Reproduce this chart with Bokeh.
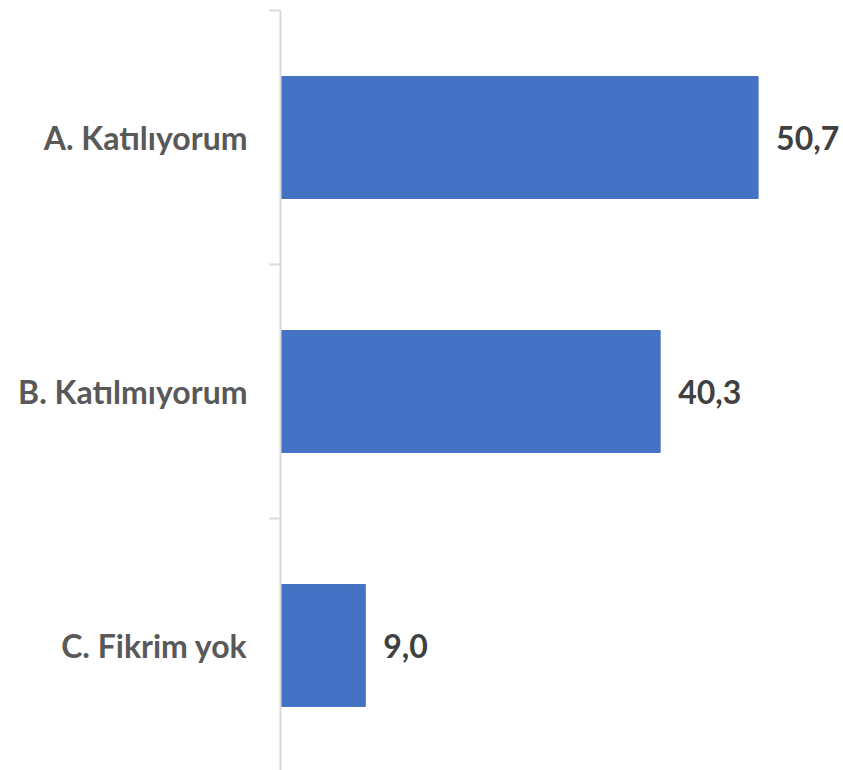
from bokeh.plotting import figure
from bokeh.models import ColumnDataSource, Range1d, FixedTicker
from bokeh.core.properties import value
from bokeh.embed import file_html
from bokeh.resources import INLINE

categories = ["A. Katılıyorum", "B. Katılmıyorum", "C. Fikrim yok"]
values = [50.7, 40.3, 9.0]
value_labels = ["50,7", "40,3", "9,0"]

n = len(categories)
ypos = [n - i - 0.5 for i in range(n)]

src = ColumnDataSource(dict(y=ypos, v=values, lab=value_labels))

W, H = 843, 770
left, top = 280, 10
frame_w = W - left
frame_h = H - top
p = figure(width=W, height=H, output_backend="svg", toolbar_location=None,
           x_range=Range1d(0, frame_w / 9.42), y_range=Range1d(3 - frame_h / 254.0, 3),
           min_border_left=left, min_border_right=0, min_border_top=top, min_border_bottom=0)
p.outline_line_color = None
p.xgrid.visible = False
p.ygrid.visible = False
p.xaxis.visible = False
p.background_fill_color = "white"
p.border_fill_color = "white"

p.hbar(y="y", right="v", left=0, height=0.48, source=src, color="#4472C4")
p.text(x="v", y="y", text="lab", source=src, x_offset=18,
       text_baseline="middle", text_align="left",
       text_font=value("Lato"), text_font_style="bold",
       text_font_size="32px", text_color="#404040")

ax = p.yaxis[0]
ax.ticker = FixedTicker(ticks=ypos, minor_ticks=[0, 1, 2, 3])
ax.major_label_overrides = {y: c for y, c in zip(ypos, categories)}
ax.major_tick_line_color = None
ax.major_tick_out = 0
ax.major_tick_in = 0
ax.minor_tick_out = 11
ax.minor_tick_in = 0
ax.minor_tick_line_color = "#d9d9d9"
ax.minor_tick_line_width = 2
ax.axis_line_color = "#d9d9d9"
ax.axis_line_width = 2
ax.major_label_standoff = 22
ax.major_label_text_font = "Lato"
ax.major_label_text_font_style = "bold"
ax.major_label_text_font_size = "32px"
ax.major_label_text_color = "#595959"

open("out.html", "w").write(file_html(p, INLINE))
